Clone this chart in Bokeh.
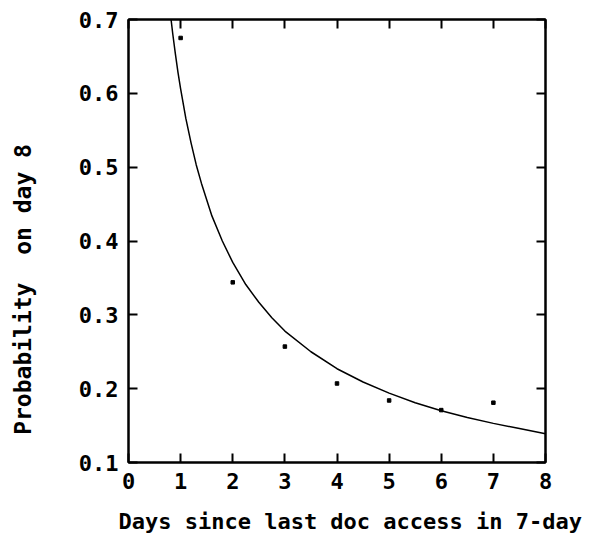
from bokeh.plotting import figure
from bokeh.models import FixedTicker, LinearAxis, Range1d, CustomJSTickFormatter
from bokeh.embed import file_html
from bokeh.resources import INLINE

# observed points
days = [1, 2, 3, 4, 5, 6, 7]
prob = [0.675, 0.344, 0.257, 0.207, 0.184, 0.171, 0.181]

# fitted curve
fit_days = [0.79, 0.85, 0.9, 0.95, 1.0, 1.1, 1.2, 1.3, 1.4, 1.6, 1.8, 2.0, 2.25, 2.5, 2.75,
            3.0, 3.5, 4.0, 4.5, 5.0, 5.5, 6.0, 6.5, 7.0, 7.5, 8.0]
fit_prob = [0.716, 0.680, 0.653, 0.628, 0.606, 0.566, 0.533, 0.503, 0.478, 0.434, 0.400, 0.371,
            0.341, 0.317, 0.296, 0.278, 0.250, 0.227, 0.209, 0.194, 0.181, 0.170, 0.161, 0.153,
            0.146, 0.139]

x_ticks = [0, 1, 2, 3, 4, 5, 6, 7, 8]
y_ticks = [0.1, 0.2, 0.3, 0.4, 0.5, 0.6, 0.7]

x_title = "Days since last doc access in 7-day"
y_title = "Probability\u00a0 on day 8"

NB = "\u00a0"
FONT = "DejaVu Sans Mono"

p = figure(output_backend="svg", toolbar_location=None,
           frame_width=417, frame_height=443,
           min_border_left=128, min_border_top=19, min_border_right=47, min_border_bottom=75,
           x_range=Range1d(0, 8), y_range=Range1d(0.1, 0.7),
           x_axis_location=None, y_axis_location=None)
p.grid.visible = False
p.outline_line_color = "black"
p.outline_line_width = 2
p.background_fill_color = "white"
p.border_fill_color = "white"


def style_axis(ax, ticks, show_labels, standoff=10):
    ax.ticker = FixedTicker(ticks=ticks)
    ax.axis_line_color = "black"
    ax.axis_line_width = 2
    ax.major_tick_line_color = "black"
    ax.major_tick_line_width = 2
    ax.major_tick_in = 9
    ax.major_tick_out = 0
    ax.minor_tick_line_color = None
    ax.major_label_text_font = FONT
    ax.major_label_text_font_style = "bold"
    ax.major_label_text_color = "black"
    ax.major_label_text_font_size = "22px"
    ax.axis_label_text_font = FONT
    ax.axis_label_text_font_style = "bold"
    ax.axis_label_text_color = "black"
    if show_labels:
        ax.major_label_standoff = standoff
    else:
        ax.formatter = CustomJSTickFormatter(code="return ''")
        ax.major_label_standoff = 0


xb = LinearAxis(axis_label=NB * 2 + x_title)
style_axis(xb, x_ticks, True, 10)
xb.axis_label_text_font_size = "22px"
xb.axis_label_standoff = 17
p.add_layout(xb, "below")

yl = LinearAxis(axis_label=y_title + NB * 7)
style_axis(yl, y_ticks, True, 10)
yl.axis_label_text_font_size = "23px"
yl.axis_label_standoff = 40
p.add_layout(yl, "left")

xa = LinearAxis()
style_axis(xa, x_ticks, False)
p.add_layout(xa, "above")
yr = LinearAxis()
style_axis(yr, y_ticks, False)
p.add_layout(yr, "right")

p.line(fit_days, fit_prob, line_color="black", line_width=1.5)
p.scatter(days, prob, marker="square", size=3.5, color="black")

open("out.html", "w").write(file_html(p, INLINE))
